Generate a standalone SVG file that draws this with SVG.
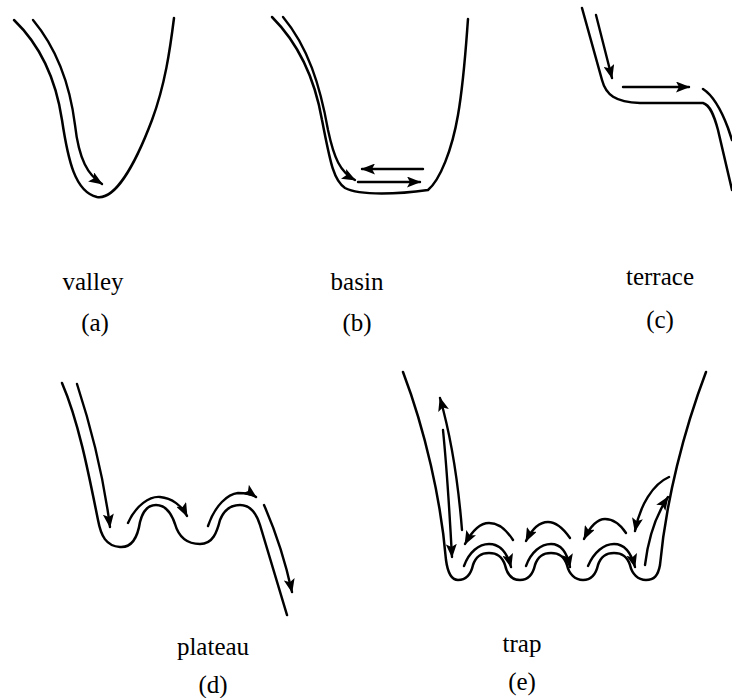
<svg xmlns="http://www.w3.org/2000/svg" width="732" height="698" viewBox="0 0 732 698">
<defs>
<marker id="ah" markerUnits="userSpaceOnUse" markerWidth="14" markerHeight="11" refX="13" refY="5.5" orient="auto">
<path d="M0,0 L14,5.5 L0,11 L3,5.5 Z" fill="#000"/>
</marker>
<style>
.c{fill:none;stroke:#000;stroke-width:2.5;stroke-linecap:round;stroke-linejoin:round}
.a{fill:none;stroke:#000;stroke-width:2.4;stroke-linecap:round;marker-end:url(#ah)}
.t{font-family:"Liberation Serif","Times New Roman",serif;font-size:25px;fill:#000;text-anchor:middle}
</style>
</defs>
<rect width="732" height="698" fill="#fff"/>
<g id="valley">
<path class="c" d="M14,20 C40,45 56,80 62,120 C68,160 75,192 97,197 C115,200 135,165 152,120 C165,85 170,50 174,18"/>
<text class="t" x="93" y="290">valley</text>
<text class="t" x="95" y="331">(a)</text>
</g>
<g id="basin">
<path class="c" d="M272,17 C300,45 315,80 322,120 C330,160 333,180 345,188 C360,196 400,194 428,190 C440,180 452,150 458,115 C464,80 466,45 468,19"/>
<text class="t" x="357" y="290">basin</text>
<text class="t" x="357" y="331">(b)</text>
</g>
<g id="terrace">
<path class="c" d="M582,8 L602,80 C606,95 615,102 640,103 L703,103 C710,105 714,115 718,130 L732,190"/>
<path class="c" d="M703,89 C714,96 722,112 728,128 L732,140"/>
<text class="t" x="660" y="285">terrace</text>
<text class="t" x="660" y="328">(c)</text>
</g>
<g id="plateau">
<path class="c" d="M62,383 C78,420 88,470 98,520 C101,536 106,546 120,547 C133,548 138,535 140,522 C143,510 148,505 156,505 C165,505 171,512 175,524 C179,538 187,544 200,544 C213,544 217,532 220,520 C224,510 230,505 240,505 C250,505 256,512 260,525 L287,615"/>
<text class="t" x="213" y="655">plateau</text>
<text class="t" x="213" y="693">(d)</text>
</g>
<g id="trap">
<path class="c" d="M403,372 C425,430 441,500 446,560 C448,575 452,580 458,580 C466,580 471,574 473,565 C476,556 481,553 489,553 C497,553 502,556 505,565 C507,574 512,580 520,580 C528,580 533,574 535,565 C538,556 543,553 551,553 C559,553 564,556 567,565 C569,574 575,580 583,580 C591,580 596,574 598,565 C601,556 606,553 614,553 C622,553 627,556 630,565 C632,574 638,580 646,580 C654,580 658,576 660,565 C666,500 684,430 706,372"/>
<text class="t" x="522" y="652">trap</text>
<text class="t" x="522" y="690">(e)</text>
</g>
<g id="arrows">
<path class="a" d="M33,20 C58,50 70,85 75,125 C79,160 88,175 102,184"/>
<path class="a" d="M283,17 C308,47 320,85 328,130 C334,158 340,172 355,180"/>
<path class="a" d="M358,182 L420,182"/>
<path class="a" d="M423,169 L362,169"/>
<path class="a" d="M596,15 L612,78"/>
<path class="a" d="M623,87 L689,87"/>
<path class="a" d="M77,384 C92,430 104,480 110,527"/>
<path class="a" d="M128,523 C136,505 150,496 160,497 C172,498 182,506 187,516"/>
<path class="a" d="M208,526 C215,505 228,494 238,493 C246,493 252,494 256,497"/>
<path class="a" d="M264,505 C275,530 285,560 292,592"/>
<path class="a" d="M443,430 C447,470 450,520 452,557"/>
<path class="a" d="M462,530 C458,480 452,440 440,398"/>
<path class="a" d="M513,540 C506,529 498,523 489,523 C480,523 472,531 465,544"/>
<path class="a" d="M464,566 C469,552 479,544 489,544 C499,544 507,552 511,567"/>
<path class="a" d="M570,538 C563,528 556,522 548,522 C540,522 532,529 526,541"/>
<path class="a" d="M526,566 C531,552 541,544 551,544 C561,544 567,552 570,567"/>
<path class="a" d="M626,533 C620,524 613,519 605,519 C597,519 590,527 584,539"/>
<path class="a" d="M588,566 C594,552 604,544 614,544 C624,544 631,552 635,567"/>
<path class="a" d="M669,477 C653,484 640,505 635,531"/>
<path class="a" d="M645,565 C648,540 656,515 668,497"/>
</g>
</svg>
